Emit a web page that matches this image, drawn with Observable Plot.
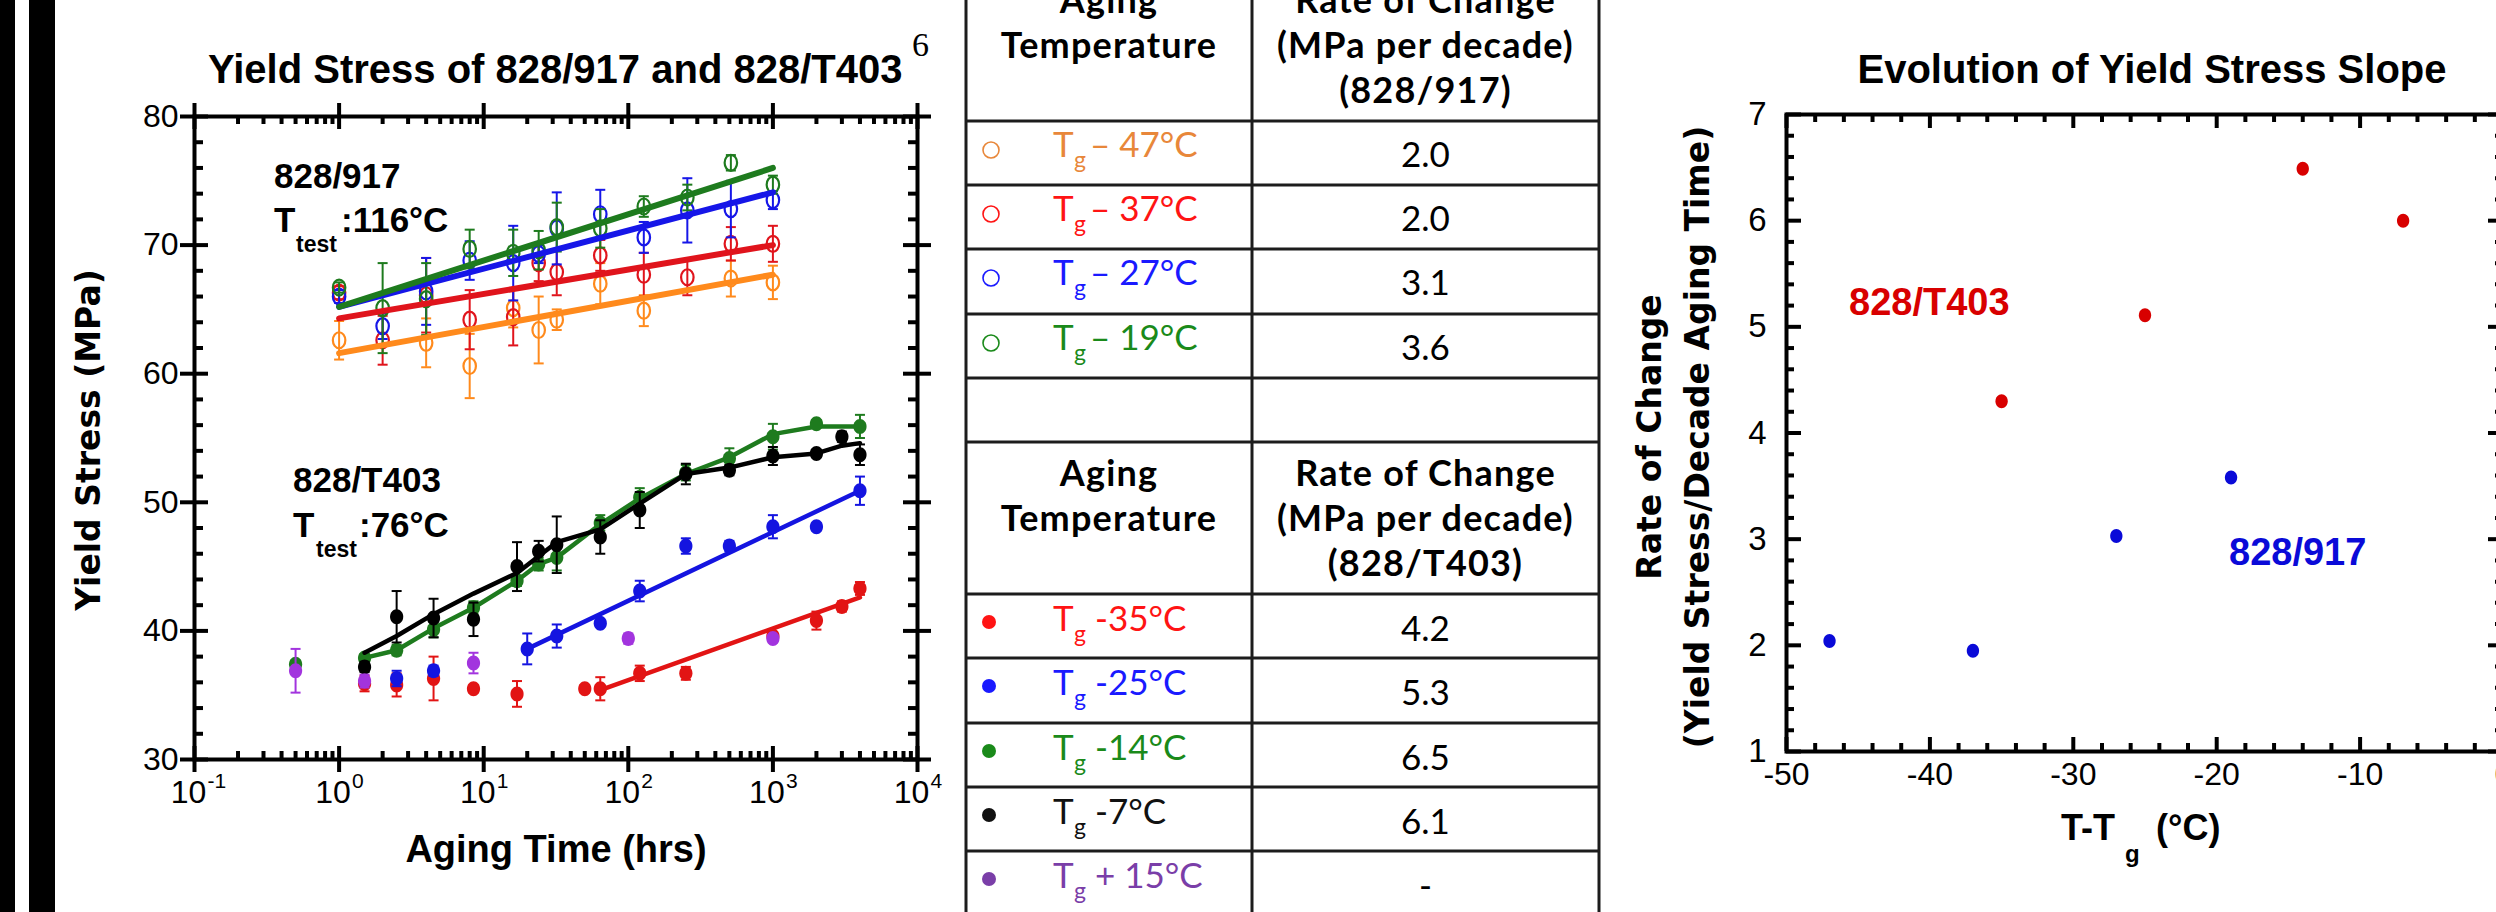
<!DOCTYPE html>
<html><head><meta charset="utf-8">
<script src="https://cdn.jsdelivr.net/npm/d3@7"></script>
<script src="https://cdn.jsdelivr.net/npm/@observablehq/plot@0.6"></script>
<style>
html,body{margin:0;padding:0;background:#fff;overflow:hidden;}
#page{position:relative;width:2496px;height:912px;overflow:hidden;background:#fff;}
</style></head><body><div id="page"></div>
<script>
// ---------------- DATA ----------------
// 828/917, tested at 116°C, open circles
const agingHours917 = [1, 2, 4, 8, 16, 24, 32, 64, 128, 256, 512, 1000];
const series917 = ["Tg – 47°C", "Tg – 37°C", "Tg – 27°C", "Tg – 19°C"];
const stress917_47 = [62.6, null, 62.4, 60.6, 65.1, 63.4, 64.2, 67.0, 64.9, null, 67.4, 67.1];
const err917_47    = [1.5, 0, 1.9, 2.5, 1.5, 2.6, 0.8, 1.6, 1.2, 0, 1.4, 1.3];
const stress917_37 = [66.3, 62.6, 66.1, 64.2, 64.4, 68.6, 67.9, 69.2, 67.7, 67.5, 70.1, 70.1];
const err917_37    = [0.5, 1.9, 2.9, 2.3, 2.2, 1.4, 1.8, 1.2, 1.7, 1.4, 1.3, 1.4];
const stress917_27 = [66.0, 63.7, 66.4, 68.8, 68.6, 69.3, 71.3, 72.4, 70.6, 72.7, 72.8, 73.5];
const err917_27    = [0.5, 1.0, 2.6, 1.5, 2.9, 0.7, 2.8, 1.9, 1.2, 2.5, 2.2, 0.7];
const stress917_19 = [66.7, 65.1, 65.8, 69.7, 69.4, 69.6, 71.4, 71.3, 73.0, 73.7, 76.4, 74.7];
const err917_19    = [0.4, 3.5, 2.8, 1.5, 1.8, 1.5, 1.9, 1.5, 0.8, 1.0, 0.6, 0.7];
const fitHours917 = [1, 1000];
const fit917_47 = [61.6, 67.7];
const fit917_37 = [64.3, 70.0];
const fit917_27 = [65.2, 74.1];
const fit917_19 = [65.2, 76.0];

// 828/T403, tested at 76°C, filled circles
const series403 = ["Tg -35°C", "Tg -25°C", "Tg -14°C", "Tg -7°C", "Tg + 15°C"];
const hours403_35  = [1.5, 2.5, 4.5, 8.5, 17, 50, 64, 120, 250, 1000, 2000, 3000, 4000];
const stress403_35 = [35.9, 35.8, 36.3, 35.5, 35.1, 35.5, 35.5, 36.7, 36.7, 39.6, 40.8, 41.9, 43.3];
const err403_35    = [0.6, 0.9, 1.7, 0.3, 1.0, 0.3, 0.9, 0.6, 0.5, 0.3, 0.7, 0.4, 0.5];
const fitHours403_35 = [64, 4000];
const fit403_35      = [35.4, 42.6];
const hours403_25  = [2.5, 4.5, 20, 32, 64, 120, 250, 500, 1000, 2000, 4000];
const stress403_25 = [36.3, 36.9, 38.6, 39.6, 40.6, 43.1, 46.6, 46.6, 48.1, 48.1, 50.9];
const err403_25    = [0.6, 0.4, 1.2, 0.9, 0, 0.8, 0.6, 0.4, 0.9, 0.3, 1.1];
const fitHours403_25 = [20, 4000];
const fit403_25      = [38.6, 50.9];
const hours403_14  = [0.5, 1.5, 2.5, 4.5, 8.5, 17, 24, 32, 64, 120, 250, 500, 1000, 2000, 4000];
const stress403_14 = [37.4, 37.9, 38.5, 40.1, 41.8, 43.9, 45.2, 45.7, 48.4, 50.4, 52.3, 53.4, 55.1, 56.1, 55.9];
const err403_14    = [0.3, 0.3, 0.4, 0.6, 0.5, 0.4, 0.5, 1.0, 0.6, 0.7, 0.6, 0.8, 1.0, 0.3, 0.9];
const fitHours403_14 = [1.5, 2.5, 4.5, 8.5, 17, 24, 32, 64, 120, 250, 500, 1000, 2000, 4000];
const fit403_14      = [37.9, 38.5, 40.2, 41.8, 43.9, 45.2, 45.7, 48.3, 50.3, 52.2, 53.5, 55.3, 55.9, 55.9];
const hours403_7  = [1.5, 2.5, 4.5, 8.5, 17, 24, 32, 64, 120, 250, 500, 1000, 2000, 3000, 4000];
const stress403_7 = [37.2, 41.1, 41.0, 40.9, 45.0, 46.2, 46.7, 47.3, 49.4, 52.2, 52.5, 53.6, 53.8, 55.1, 53.7];
const err403_7    = [0.4, 2.0, 1.5, 1.3, 1.9, 0.8, 2.2, 1.3, 1.4, 0.8, 0.4, 0.7, 0.3, 0.4, 0.8];
const fitHours403_7 = [1.5, 2.5, 4.5, 8.5, 17, 32, 64, 120, 250, 500, 1000, 2000, 3000, 4000];
const fit403_7      = [38.3, 39.6, 41.3, 42.9, 44.5, 46.9, 47.9, 49.9, 52.2, 52.7, 53.5, 53.8, 54.4, 54.6];
const hours403_p15  = [0.5, 1.5, 8.5, 100, 1000];
const stress403_p15 = [36.9, 36.1, 37.5, 39.4, 39.4];
const err403_p15    = [1.7, 0.5, 0.8, 0.4, 0.3];

// Right chart: slope vs T - Tg
const deltaT917 = [-47, -37, -27, -19];
const slope917  = [2.04, 1.95, 3.03, 3.58];
const deltaT403 = [-35, -25, -14, -7];
const slope403  = [4.30, 5.11, 6.49, 6.00];

// Table
const tableTemp917 = ["– 47°C", "– 37°C", "– 27°C", "– 19°C"];
const tableRate917 = ["2.0", "2.0", "3.1", "3.6"];
const tableTemp403 = ["-35°C", "-25°C", "-14°C", "-7°C", "+ 15°C"];
const tableRate403 = ["4.2", "5.3", "6.5", "6.1", "-"];

// Tick labels
const xTicksLeft = [0.1, 1, 10, 100, 1000, 10000];
const xExpLeft = ["-1", "0", "1", "2", "3", "4"];
const yTicksLeft = [30, 40, 50, 60, 70, 80];
const xTicksRight = [-50, -40, -30, -20, -10, 0];
const yTicksRight = [1, 2, 3, 4, 5, 6, 7];

// ---------------- STYLE ----------------
const colors917 = ["#FF8A1C", "#E0141C", "#1616E8", "#1E7B1E"];
const colors403 = ["#E21414", "#1414E0", "#1E7B1E", "#000000", "#A234DE"];
const tableColors917 = ["#E8873A", "#FF1414", "#1A1AFF", "#1A8A1A"];
const tableColors403 = ["#FF1414", "#1A1AFF", "#1A8A1A", "#111111", "#7A3EA8"];

const page = document.getElementById("page");
const W = 2496, H = 912;

function ellipseSym(ratio) {
  return { draw(ctx, size) {
    const r = Math.sqrt(size / Math.PI), rx = r * ratio, ry = r, k = 0.5523;
    ctx.moveTo(rx, 0);
    ctx.bezierCurveTo(rx, ry * k, rx * k, ry, 0, ry);
    ctx.bezierCurveTo(-rx * k, ry, -rx, ry * k, -rx, 0);
    ctx.bezierCurveTo(-rx, -ry * k, -rx * k, -ry, 0, -ry);
    ctx.bezierCurveTo(rx * k, -ry, rx, -ry * k, rx, 0);
    ctx.closePath();
  }};
}
const capSym = { draw(ctx, size) { const r = Math.sqrt(size / Math.PI); ctx.moveTo(-r, 0); ctx.lineTo(r, 0); } };

function minorLog(decadesFrom, decadesTo) {
  const out = [];
  for (let e = decadesFrom; e < decadesTo; e++) for (let m = 2; m <= 9; m++) out.push(m * Math.pow(10, e));
  return out;
}
function minorLin(a, b, step, majorStep) {
  const out = [];
  for (let v = a; v <= b + 1e-9; v += step) { const r = Math.round(v * 1000) / 1000; if (Math.abs(r / majorStep - Math.round(r / majorStep)) > 1e-6) out.push(r); }
  return out;
}

function frameTicks(fw, fh, xMaj, xMin, yMaj, yMin, o) {
  const m = [];
  const sw = 4;
  m.push(Plot.tickX(xMaj, {x: d => d, insetTop: fh - o.xin, insetBottom: -o.xout, strokeWidth: sw, stroke: "#000"}));
  m.push(Plot.tickX(xMaj, {x: d => d, insetBottom: fh - o.xin, insetTop: -o.xout, strokeWidth: sw, stroke: "#000"}));
  m.push(Plot.tickX(xMin, {x: d => d, insetTop: fh - o.xmin, strokeWidth: sw, stroke: "#000"}));
  m.push(Plot.tickX(xMin, {x: d => d, insetBottom: fh - o.xmin, strokeWidth: sw, stroke: "#000"}));
  m.push(Plot.tickY(yMaj, {y: d => d, insetRight: fw - o.yin, insetLeft: -o.yout, strokeWidth: sw, stroke: "#000"}));
  m.push(Plot.tickY(yMaj, {y: d => d, insetLeft: fw - o.yin, insetRight: -o.yout, strokeWidth: sw, stroke: "#000"}));
  m.push(Plot.tickY(yMin, {y: d => d, insetRight: fw - o.ymin, strokeWidth: sw, stroke: "#000"}));
  m.push(Plot.tickY(yMin, {y: d => d, insetLeft: fw - o.ymin, strokeWidth: sw, stroke: "#000"}));
  m.push(Plot.frame({stroke: "#000", strokeWidth: sw}));
  return m;
}

// ---------------- LEFT CHART ----------------
{
  const w = 960, h = 912, mL = 194, mR = 43, mT = 116, mB = 153;
  const fw = w - mL - mR, fh = h - mT - mB;
  const marks = [];
  const stress917 = [stress917_47, stress917_37, stress917_27, stress917_19];
  const err917 = [err917_47, err917_37, err917_27, err917_19];
  const fit917 = [fit917_47, fit917_37, fit917_27, fit917_19];
  for (let si = 0; si < 4; si++) {
    const rows = agingHours917.map((t, i) => ({t, v: stress917[si][i], e: err917[si][i]})).filter(d => d.v != null);
    const eb = rows.filter(d => d.e > 0);
    const c = colors917[si];
    marks.push(Plot.ruleX(eb, {x: "t", y1: d => d.v - d.e, y2: d => d.v + d.e, stroke: c, strokeWidth: 2}));
    marks.push(Plot.dot(eb, {x: "t", y: d => d.v + d.e, symbol: capSym, r: 5, stroke: c, strokeWidth: 2, fill: "none"}));
    marks.push(Plot.dot(eb, {x: "t", y: d => d.v - d.e, symbol: capSym, r: 5, stroke: c, strokeWidth: 2, fill: "none"}));
    marks.push(Plot.dot(rows, {x: "t", y: "v", symbol: ellipseSym(0.78), r: 8, stroke: c, strokeWidth: 2.2, fill: "none"}));
  }
  for (let si = 0; si < 4; si++) {
    const rows = fitHours917.map((t, i) => ({t, v: fit917[si][i]}));
    marks.push(Plot.line(rows, {x: "t", y: "v", stroke: colors917[si], strokeWidth: 6}));
  }
  const h403 = [hours403_35, hours403_25, hours403_14, hours403_7, hours403_p15];
  const s403 = [stress403_35, stress403_25, stress403_14, stress403_7, stress403_p15];
  const e403 = [err403_35, err403_25, err403_14, err403_7, err403_p15];
  const fh403 = [fitHours403_35, fitHours403_25, fitHours403_14, fitHours403_7];
  const f403 = [fit403_35, fit403_25, fit403_14, fit403_7];
  const order = [2, 3, 0, 1, 4];
  for (const si of order) {
    const c = colors403[si];
    const rows = h403[si].map((t, i) => ({t, v: s403[si][i], e: e403[si][i]}));
    const eb = rows.filter(d => d.e > 0);
    marks.push(Plot.ruleX(eb, {x: "t", y1: d => d.v - d.e, y2: d => d.v + d.e, stroke: c, strokeWidth: 2}));
    marks.push(Plot.dot(eb, {x: "t", y: d => d.v + d.e, symbol: capSym, r: 5, stroke: c, strokeWidth: 2, fill: "none"}));
    marks.push(Plot.dot(eb, {x: "t", y: d => d.v - d.e, symbol: capSym, r: 5, stroke: c, strokeWidth: 2, fill: "none"}));
    if (si < 4) {
      const fr = fh403[si].map((t, i) => ({t, v: f403[si][i]}));
      marks.push(Plot.line(fr, {x: "t", y: "v", stroke: c, strokeWidth: 4.5}));
    }
    marks.push(Plot.dot(rows, {x: "t", y: "v", symbol: ellipseSym(0.88), r: 7.5, fill: c, stroke: "none"}));
  }
  marks.push(...frameTicks(fw, fh, xTicksLeft, minorLog(-1, 4), yTicksLeft, minorLin(30, 80, 2, 10),
    {xin: 13, xout: 13, xmin: 8, yin: 14, yout: 14, ymin: 9}));
  marks.push(Plot.text(yTicksLeft, {y: d => d, text: d => String(d), frameAnchor: "left", dx: -16, textAnchor: "end",
    fontSize: 32, fontFamily: "Liberation Sans", fill: "#000"}));
  marks.push(Plot.text(xTicksLeft, {x: d => d, text: () => "10", frameAnchor: "bottom", dy: 43, dx: -6,
    fontSize: 32, fontFamily: "Liberation Sans", fill: "#000"}));
  marks.push(Plot.text(xTicksLeft, {x: d => d, text: (d, i) => xExpLeft[i], frameAnchor: "bottom", dy: 28, dx: 13, textAnchor: "start",
    fontSize: 21, fontFamily: "Liberation Sans", fill: "#000"}));
  const svg = Plot.plot({
    width: w, height: h, marginLeft: mL, marginRight: mR, marginTop: mT, marginBottom: mB,
    x: {type: "log", domain: [0.1, 10000], axis: null},
    y: {domain: [30, 80], axis: null},
    style: {background: "transparent", color: "#000"},
    marks
  });
  svg.style.position = "absolute"; svg.style.left = "0px"; svg.style.top = "0px";
  page.appendChild(svg);
}

// ---------------- RIGHT CHART ----------------
{
  const w = 900, h = 912, mL = 166, mR = 17, mT = 114, mB = 161;
  const fw = w - mL - mR, fh = h - mT - mB;
  const marks = [];
  marks.push(...frameTicks(fw, fh, xTicksRight, minorLin(-50, 0, 2, 10), yTicksRight, minorLin(1, 7, 0.2, 1),
    {xin: 14, xout: 0, xmin: 8, yin: 15, yout: 0, ymin: 8}));
  marks.push(Plot.dot(deltaT917.map((x, i) => ({x, y: slope917[i]})), {x: "x", y: "y", symbol: ellipseSym(0.88), r: 7, fill: "#0A0AD8", stroke: "none"}));
  marks.push(Plot.dot(deltaT403.map((x, i) => ({x, y: slope403[i]})), {x: "x", y: "y", symbol: ellipseSym(0.88), r: 7, fill: "#D80000", stroke: "none"}));
  marks.push(Plot.text(yTicksRight, {y: d => d, text: d => String(d), frameAnchor: "left", dx: -20, textAnchor: "end",
    fontSize: 33, fontFamily: "Liberation Sans", fill: "#000"}));
  marks.push(Plot.text(xTicksRight, {x: d => d, text: d => String(d), frameAnchor: "bottom", dy: 33,
    fontSize: 32, fontFamily: "Liberation Sans", fill: "#000"}));
  const svg = Plot.plot({
    width: w, height: h, marginLeft: mL, marginRight: mR, marginTop: mT, marginBottom: mB,
    x: {domain: [-50, 0], axis: null},
    y: {domain: [1, 7], axis: null},
    style: {background: "transparent", color: "#000"},
    marks
  });
  svg.style.position = "absolute"; svg.style.left = "1620px"; svg.style.top = "0px";
  page.appendChild(svg);
}

// ---------------- OVERLAY: text, table, bars ----------------
const ov = d3.select(page).append("svg").attr("width", W).attr("height", H)
  .style("position", "absolute").style("left", "0px").style("top", "0px");
ov.append("rect").attr("x", 0).attr("y", 0).attr("width", 15).attr("height", H).attr("fill", "#000");
ov.append("rect").attr("x", 29).attr("y", 0).attr("width", 26).attr("height", H).attr("fill", "#000");

function txt(x, y, s, o = {}) {
  const t = ov.append("text").attr("x", x).attr("y", y).text(s)
    .attr("font-family", o.family || "Liberation Sans").attr("font-size", o.size || 32)
    .attr("font-weight", o.weight || "normal").attr("fill", o.fill || "#000")
    .attr("text-anchor", o.anchor || "start");
  if (o.spacing) t.attr("letter-spacing", o.spacing);
  if (o.rotate) t.attr("transform", `rotate(-90 ${x} ${y})`);
  return t;
}
const B = {weight: "bold"};
// Left chart texts
txt(208, 83, "Yield Stress of 828/917 and 828/T403", {...B, size: 40});
txt(912, 56, "6", {family: "Liberation Serif", size: 34});
txt(100, 440, "Yield Stress (MPa)", {family: "DejaVu Sans", weight: "bold", size: 33, anchor: "middle", rotate: true});
txt(556, 862, "Aging Time (hrs)", {...B, size: 38, anchor: "middle"});
txt(274, 188, "828/917", {...B, size: 35});
txt(274, 232, "T", {...B, size: 35});
txt(296, 252, "test", {...B, size: 23});
txt(341, 232, ":116°C", {...B, size: 35});
txt(293, 492, "828/T403", {...B, size: 35});
txt(293, 537, "T", {...B, size: 35});
txt(316, 557, "test", {...B, size: 23});
txt(359, 537, ":76°C", {...B, size: 35});

// Right chart texts
txt(2152, 83, "Evolution of Yield Stress Slope", {...B, size: 40, anchor: "middle"});
txt(1661, 437, "Rate of Change", {family: "DejaVu Sans", weight: "bold", size: 33, anchor: "middle", rotate: true});
txt(1709, 437, "(Yield Stress/Decade Aging Time)", {family: "DejaVu Sans", weight: "bold", size: 33, anchor: "middle", rotate: true});
txt(2061, 840, "T-T", {...B, size: 36});
txt(2125, 862, "g", {...B, size: 24});
txt(2156, 840, "(°C)", {...B, size: 36});
txt(1849, 315, "828/T403", {...B, size: 38, fill: "#D80000"});
txt(2229, 565, "828/917", {...B, size: 38, fill: "#0A0AD8"});

// Table
const tL = 966, tM = 1252, tR = 1599;
const rowLines = [121, 185, 249, 314, 378, 442, 594, 658, 723, 787, 851];
const lineC = "#1c1c1c";
[tL, tM, tR].forEach(x => ov.append("line").attr("x1", x).attr("x2", x).attr("y1", 0).attr("y2", H).attr("stroke", lineC).attr("stroke-width", 3));
rowLines.forEach(y => ov.append("line").attr("x1", tL).attr("x2", tR).attr("y1", y).attr("y2", y).attr("stroke", lineC).attr("stroke-width", 3));
const c1 = (tL + tM) / 2, c2 = (tM + tR) / 2;
const TF = "Lato";
function header(top, sub) {
  const o = {family: TF, weight: "bold", size: 36, anchor: "middle", spacing: 1.2};
  txt(c1, top + 44, "Aging", o);
  txt(c1, top + 89, "Temperature", o);
  txt(c2, top + 44, "Rate of Change", o);
  txt(c2, top + 89, "(MPa per decade)", o);
  txt(c2, top + 134, sub, o);
}
header(-31, "(828/917)");
header(442, "(828/T403)");
const tops917 = [121, 185, 249, 314];
tops917.forEach((top, i) => {
  const c = tableColors917[i];
  ov.append("circle").attr("cx", 991).attr("cy", top + 29).attr("r", 8).attr("fill", "none").attr("stroke", c).attr("stroke-width", 1.6);
  txt(1053, top + 36, "T", {family: TF, size: 35, fill: c});
  txt(1074, top + 47, "g", {family: TF, size: 23, fill: c});
  txt(1090, top + 36, tableTemp917[i], {family: TF, size: 35, fill: c});
  txt(c2, top + 46, tableRate917[i], {family: TF, size: 35, anchor: "middle"});
});
const tops403 = [594, 658, 723, 787, 851];
tops403.forEach((top, i) => {
  const c = tableColors403[i];
  ov.append("circle").attr("cx", 989).attr("cy", top + 28).attr("r", 7).attr("fill", c);
  txt(1053, top + 37, "T", {family: TF, size: 35, fill: c});
  txt(1074, top + 48, "g", {family: TF, size: 23, fill: c});
  txt(1095, top + 37, tableTemp403[i], {family: TF, size: 35, fill: c});
  txt(c2, top + 47, tableRate403[i], {family: TF, size: 35, anchor: "middle"});
});
</script></body></html>
